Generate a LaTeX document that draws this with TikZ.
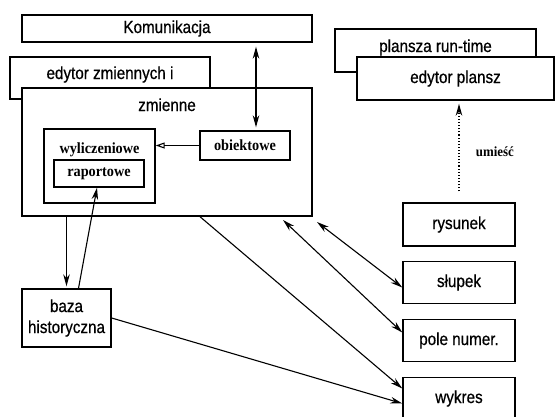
\documentclass[tikz,border=0pt]{standalone}
\usepackage{fontspec}
\setmainfont{Liberation Sans}[FakeStretch=0.87,FakeBold=0.6]
\newfontfamily\serifb{Liberation Serif}[FakeStretch=0.92]
\usetikzlibrary{arrows.meta,positioning}

\begin{document}
\begin{tikzpicture}[x=1pt,y=-1pt,>={Stealth[length=12pt,width=6.5pt]},
    box/.style={draw,line width=1.4pt,fill=white,inner sep=2pt,
      font=\fontsize{17.5}{21}\selectfont},
    sbox/.style={box,font=\serifb\bfseries\fontsize{15.5}{17}\selectfont},
    conn/.style={line width=1.1pt},
    node distance=58pt]

  \useasboundingbox (0,0) rectangle (556,416);

  % gorny rzad
  \node[box,minimum width=290pt,minimum height=27pt] (kom) at (167,28.5) {Komunikacja};
  \node[box,minimum width=200pt,minimum height=42pt,text height=20pt,text depth=18pt]
    (edzm) at (110,78) {edytor zmiennych i};
  \node[box,minimum width=290pt,minimum height=128pt,text height=21pt,text depth=103pt]
    (zm) at (167,152) {zmienne};

  \node[box,minimum width=201pt,minimum height=43pt,text height=21pt,text depth=18pt]
    (plrt) at (435.5,50.5) {plansza run-time};
  \node[box,minimum width=197pt,minimum height=43pt] (edpl) at (455.5,78.5) {edytor plansz};

  % wewnatrz zmiennych
  \node[sbox,minimum width=111pt,minimum height=74pt,text height=22pt,text depth=48pt]
    (wyl) at (99.5,166) {wyliczeniowe};
  \node[sbox,minimum width=90pt,minimum height=27pt] (rap) at (99,173.5) {raportowe};
  \node[sbox,minimum width=90pt,minimum height=29pt] (obi) at (245,145.5) {obiektowe};

  \node[box,minimum width=89pt,minimum height=58pt,align=center] (baza) at (66.5,318)
    {baza\\historyczna};

  % prawa kolumna
  \node[box,minimum width=112pt,minimum height=43pt] (rys) at (459,224.5) {rysunek};
  \node[box,minimum width=112pt,minimum height=42pt] (slu) [below of=rys] {słupek};
  \node[box,minimum width=112pt,minimum height=42pt] (pole) [below of=slu] {pole numer.};
  \node[box,minimum width=112pt,minimum height=42pt] (wyk) [below of=pole] {wykres};

  \coordinate (c1) at (283,220);
  \coordinate (c2) at (317,222);

  \draw[conn,<->,shorten <=3pt,shorten >=4pt] ([xshift=11pt]obi.north)
    -- ([xshift=11pt]obi.north |- kom.south);
  \draw[conn,-{Triangle[open,length=9pt,width=6pt]}] (obi.west) -- (obi.west -| wyl.east);
  \draw[conn,->,shorten >=2pt] (zm.south -| baza.north) -- (baza.north);
  \draw[conn,->] ([xshift=12pt]baza.north) -- ([xshift=-2pt]rap.south);
  \draw[conn,->] (baza.east) -- ([yshift=-5pt]wyk.west);
  \draw[conn,->] ([xshift=33pt]zm.south) -- ([yshift=10pt]wyk.west);
  \draw[conn,<->] (c1) -- ([yshift=8pt]pole.west);
  \draw[conn,<->] (c2) -- ([yshift=-5pt]slu.west);
  \draw[conn,->,dotted,line width=1.2pt,shorten <=11pt,shorten >=3pt] (rys.north)
    -- (rys.north |- edpl.south)
    node[midway,right=13pt,font=\serifb\bfseries\fontsize{14}{15}\selectfont] {umieść};

\end{tikzpicture}
\end{document}
